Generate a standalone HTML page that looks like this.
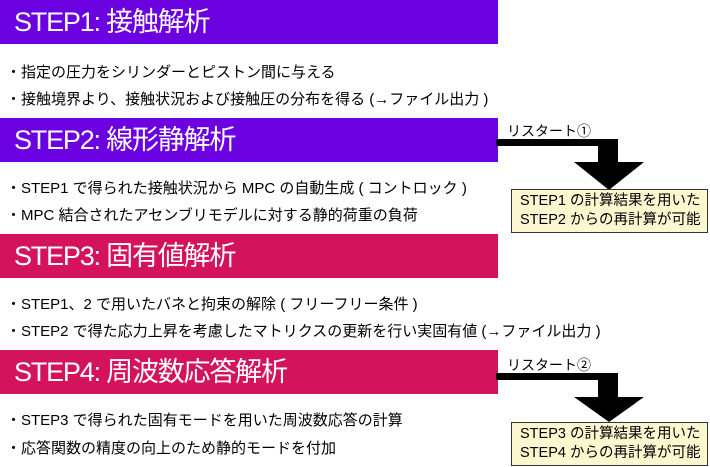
<!DOCTYPE html>
<html><head><meta charset="utf-8"><style>
body{margin:0;width:710px;height:467px;background:#fff;position:relative;overflow:hidden;font-family:"Liberation Sans","Noto Sans CJK JP",sans-serif;}
.h{position:absolute;left:0;width:498px;height:44px;color:#fff;font-size:27px;line-height:44px;padding-left:14px;box-sizing:border-box;letter-spacing:-1.2px}
.p{background:#6b00e0}.r{background:#d3145c}
.t{position:absolute;left:6px;font-size:15px;color:#000;white-space:nowrap}
.lab{position:absolute;font-size:14px;white-space:nowrap}
.box{position:absolute;left:511px;width:197px;background:#fdf7d0;border:1px solid #333;box-sizing:border-box;font-size:14.5px;line-height:19px;padding:2px 0 0 8px;white-space:nowrap}
</style></head><body>
<div class="h p" style="top:0">STEP1: 接触解析</div>
<div class="t" style="top:61px">・指定の圧力をシリンダーとピストン間に与える</div>
<div class="t" style="top:88px">・接触境界より、接触状況および接触圧の分布を得る (→ファイル出力 )</div>
<div class="h p" style="top:118px">STEP2: 線形静解析</div>
<div class="t" style="top:177px">・STEP1 で得られた接触状況から MPC の自動生成 ( コントロック )</div>
<div class="t" style="top:204px">・MPC 結合されたアセンブリモデルに対する静的荷重の負荷</div>
<div class="h r" style="top:234px">STEP3: 固有値解析</div>
<div class="t" style="top:293px">・STEP1、2 で用いたバネと拘束の解除 ( フリーフリー条件 )</div>
<div class="t" style="top:320px">・STEP2 で得た応力上昇を考慮したマトリクスの更新を行い実固有値 (→ファイル出力 )</div>
<div class="h r" style="top:350px">STEP4: 周波数応答解析</div>
<div class="t" style="top:409px">・STEP3 で得られた固有モードを用いた周波数応答の計算</div>
<div class="t" style="top:437px">・応答関数の精度の向上のため静的モードを付加</div>
<div class="lab" style="left:507px;top:121px">リスタート①</div>
<div class="lab" style="left:507px;top:355px">リスタート②</div>
<svg style="position:absolute;left:0;top:0" width="710" height="467">
<polygon points="496,139 618,139 618,162 644,162 609,190 574,162 598,162 598,146 496,146" fill="#000"/>
<polygon points="496,373 618,373 618,397 644,397 609,422 574,397 598,397 598,380 496,380" fill="#000"/>
</svg>
<div class="box" style="top:189px;height:44px">STEP1 の計算結果を用いた<br>STEP2 からの再計算が可能</div>
<div class="box" style="top:422px;height:44px">STEP3 の計算結果を用いた<br>STEP4 からの再計算が可能</div>
</body></html>
